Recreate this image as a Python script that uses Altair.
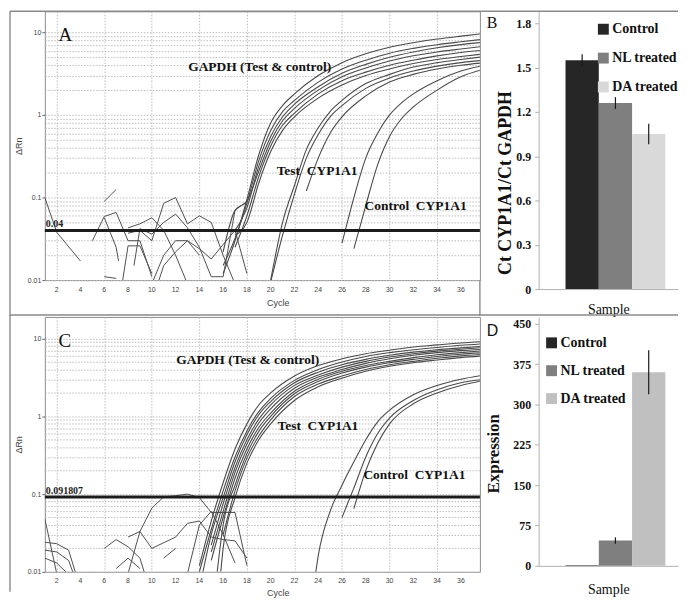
import altair as alt
import pandas as pd

SERIF = "Liberation Serif"
SANS = "Liberation Sans"
NB = "\u00a0"

# ---------------- shared axis values ----------------
CYCLE_TICKS = [2, 4, 6, 8, 10, 12, 14, 16, 18, 20, 22, 24, 26, 28, 30, 32, 34, 36]
DRN_GRID = [0.01, 0.02, 0.03, 0.04, 0.05, 0.06, 0.07, 0.08, 0.09,
            0.1, 0.2, 0.3, 0.4, 0.5, 0.6, 0.7, 0.8, 0.9,
            1, 2, 3, 4, 5, 6, 7, 8, 9, 10]
CYCLE_RANGE = [1, 37.6]

# ---------------- Panel A: amplification plot ----------------
A_THRESHOLD = 0.04
A_THRESHOLD_LABEL = "0.04"
A_GAPDH_1 = [(16, 0.012), (17, 0.03), (18, 0.095), (19, 0.33), (20, 0.8), (21, 1.3), (22, 1.8), (24, 3.0), (26, 4.3), (28, 5.5), (30, 6.6), (32, 7.5), (34, 8.3), (36, 9.0), (38, 9.7)]
A_GAPDH_2 = [(16, 0.015), (17, 0.032), (18, 0.085), (19, 0.28), (20, 0.65), (21, 1.1), (22, 1.5), (24, 2.5), (26, 3.6), (28, 4.6), (30, 5.6), (32, 6.4), (34, 7.1), (36, 7.7), (38, 8.3)]
A_GAPDH_3 = [(17, 0.04), (18, 0.075), (19, 0.24), (20, 0.55), (21, 0.95), (22, 1.35), (24, 2.2), (26, 3.2), (28, 4.1), (30, 5.0), (32, 5.8), (34, 6.5), (36, 7.1), (38, 7.6)]
A_GAPDH_4 = [(16, 0.022), (17, 0.07), (18, 0.09), (19, 0.21), (20, 0.48), (21, 0.85), (22, 1.2), (24, 2.0), (26, 2.9), (28, 3.7), (30, 4.5), (32, 5.2), (34, 5.8), (36, 6.3), (38, 6.8)]
A_GAPDH_5 = [(17, 0.025), (18, 0.06), (19, 0.18), (20, 0.42), (21, 0.75), (22, 1.05), (24, 1.8), (26, 2.6), (28, 3.3), (30, 4.0), (32, 4.6), (34, 5.2), (36, 5.7), (38, 6.1)]
A_GAPDH_6 = [(17, 0.035), (18, 0.05), (19, 0.15), (20, 0.36), (21, 0.65), (22, 0.95), (24, 1.6), (26, 2.3), (28, 3.0), (30, 3.6), (32, 4.2), (34, 4.7), (36, 5.1), (38, 5.5)]
A_TEST_1 = [(20, 0.01), (21, 0.05), (22, 0.14), (23, 0.38), (24, 0.7), (25, 1.1), (26, 1.5), (28, 2.4), (30, 3.1), (32, 3.8), (34, 4.3), (36, 4.7), (38, 5.1)]
A_TEST_2 = [(20, 0.0095), (21, 0.035), (22, 0.11), (23, 0.3), (24, 0.58), (25, 0.95), (26, 1.3), (28, 2.1), (30, 2.8), (32, 3.4), (34, 3.9), (36, 4.3), (38, 4.6)]
A_TEST_3 = [(23, 0.12), (24, 0.3), (25, 0.6), (26, 0.95), (28, 1.7), (30, 2.5), (32, 3.1), (34, 3.6), (36, 4.0), (38, 4.3)]
A_CTRL_1 = [(26, 0.028), (27, 0.1), (28, 0.3), (29, 0.6), (30, 1.0), (31, 1.4), (32, 1.8), (34, 2.6), (36, 3.4), (38, 4.0)]
A_CTRL_2 = [(27, 0.024), (28, 0.08), (29, 0.25), (30, 0.55), (31, 0.9), (32, 1.25), (34, 2.0), (36, 2.9), (38, 3.6)]

A_NOISE_1 = [(1, 0.1), (2, 0.038), (4, 0.017)]
A_NOISE_2 = [(6, 0.09), (7, 0.125)]
A_NOISE_3 = [(5, 0.03), (6, 0.059), (7, 0.066), (8, 0.03), (9, 0.03), (10, 0.011)]
A_NOISE_4 = [(6, 0.057), (7, 0.025), (7.2, 0.017)]
A_NOISE_5 = [(8, 0.043), (9, 0.048), (10, 0.057), (11, 0.04), (12, 0.02), (13, 0.009)]
A_NOISE_6 = [(8, 0.037), (9, 0.04), (10, 0.03), (11, 0.085), (12, 0.1), (13, 0.048), (14, 0.06), (15, 0.05), (16, 0.02), (17, 0.009)]
A_NOISE_7 = [(8.5, 0.015), (9, 0.042), (10, 0.036), (11, 0.05), (12, 0.063), (13, 0.043), (14, 0.025), (15, 0.011), (16, 0.011), (17, 0.07), (18, 0.09)]
A_NOISE_8 = [(10.5, 0.009), (11, 0.015), (12, 0.022), (13, 0.03), (14, 0.02)]
A_NOISE_9 = [(10, 0.009), (11, 0.02), (12, 0.03), (13, 0.03), (14, 0.024), (15, 0.018), (16, 0.027), (17, 0.04), (18, 0.012)]
A_NOISE_10 = [(6, 0.011), (7, 0.0105)]
A_NOISE_11 = [(7.5, 0.009), (8, 0.026), (9, 0.026), (10, 0.012)]

A_LETTER = ("A", 2.15, 9.4)
A_LABELS = [("GAPDH (Test & control)", 13.06, 3.8),
            ("Test" + NB + " CYP1A1", 20.5, 0.21),
            ("Control" + NB + " CYP1A1", 27.9, 0.08)]
A_YTOP = 18

# ---------------- Panel C: amplification plot ----------------
C_THRESHOLD = 0.091807
C_THRESHOLD_LABEL = "0.091807"
C_GAPDH_1 = [(14, 0.012), (15, 0.045), (16, 0.14), (17, 0.38), (18, 0.8), (19, 1.4), (20, 2.0), (22, 3.3), (24, 4.5), (26, 5.5), (28, 6.4), (30, 7.1), (32, 7.8), (34, 8.3), (36, 8.8), (38, 9.2)]
C_GAPDH_2 = [(14, 0.01), (15, 0.035), (16, 0.11), (17, 0.3), (18, 0.65), (19, 1.15), (20, 1.7), (22, 2.9), (24, 4.0), (26, 5.0), (28, 5.9), (30, 6.6), (32, 7.2), (34, 7.7), (36, 8.2), (38, 8.6)]
C_GAPDH_3 = [(14.3, 0.01), (15, 0.03), (16, 0.09), (17, 0.26), (18, 0.58), (19, 1.05), (20, 1.55), (22, 2.7), (24, 3.7), (26, 4.6), (28, 5.4), (30, 6.1), (32, 6.7), (34, 7.2), (36, 7.6), (38, 8.0)]
C_GAPDH_4 = [(15, 0.022), (16, 0.075), (17, 0.22), (18, 0.5), (19, 0.92), (20, 1.4), (22, 2.5), (24, 3.4), (26, 4.3), (28, 5.1), (30, 5.8), (32, 6.4), (34, 6.9), (36, 7.3), (38, 7.7)]
C_GAPDH_5 = [(15, 0.018), (16, 0.06), (17, 0.19), (18, 0.44), (19, 0.82), (20, 1.25), (22, 2.3), (24, 3.2), (26, 4.0), (28, 4.8), (30, 5.5), (32, 6.1), (34, 6.6), (36, 7.0), (38, 7.3)]
C_TEST_1 = [(15, 0.014), (16, 0.05), (17, 0.16), (18, 0.38), (19, 0.72), (20, 1.1), (22, 2.1), (24, 3.0), (26, 3.8), (28, 4.5), (30, 5.1), (32, 5.7), (34, 6.2), (36, 6.6), (38, 7.0)]
C_TEST_2 = [(15.5, 0.01), (16, 0.04), (17, 0.13), (18, 0.33), (19, 0.64), (20, 1.0), (22, 1.95), (24, 2.8), (26, 3.6), (28, 4.3), (30, 4.9), (32, 5.4), (34, 5.9), (36, 6.3), (38, 6.6)]
C_TEST_3 = [(16, 0.03), (17, 0.11), (18, 0.29), (19, 0.56), (20, 0.9), (22, 1.8), (24, 2.6), (26, 3.3), (28, 4.0), (30, 4.6), (32, 5.1), (34, 5.6), (36, 6.0), (38, 6.3)]
C_TEST_4 = [(15.8, 0.01), (16, 0.02), (17, 0.09), (18, 0.25), (19, 0.5), (20, 0.8), (22, 1.6), (24, 2.4), (26, 3.1), (28, 3.8), (30, 4.4), (32, 4.9), (34, 5.3), (36, 5.7), (38, 6.0)]
C_CTRL_1 = [(23.8, 0.01), (24, 0.016), (25, 0.06), (26, 0.13), (27, 0.26), (28, 0.5), (29, 0.85), (30, 1.2), (32, 1.9), (34, 2.5), (36, 3.0), (38, 3.4)]
C_CTRL_2 = [(26, 0.05), (27, 0.12), (28, 0.3), (29, 0.6), (30, 0.95), (32, 1.6), (34, 2.2), (36, 2.7), (38, 3.0)]
C_CTRL_3 = [(27, 0.065), (28, 0.2), (29, 0.45), (30, 0.8), (32, 1.45), (34, 2.0), (36, 2.5), (38, 2.9)]

C_NOISE_1 = [(1, 0.048), (2, 0.0095)]
C_NOISE_2 = [(1, 0.024), (2, 0.023), (3, 0.019), (3.6, 0.0095)]
C_NOISE_3 = [(1, 0.019), (2, 0.018), (3, 0.014), (3.4, 0.0095)]
C_NOISE_4 = [(1, 0.015), (2, 0.013), (2.9, 0.0095)]
C_NOISE_5 = [(6, 0.02), (7, 0.026), (8, 0.021), (9, 0.015), (9.4, 0.0095)]
C_NOISE_6 = [(8, 0.028), (9, 0.033), (10, 0.02), (12, 0.028), (13, 0.042), (14, 0.045), (15, 0.028), (16, 0.026), (17, 0.025), (18, 0.015)]
C_NOISE_7 = [(8, 0.0095), (9, 0.033), (10, 0.066), (11, 0.092), (12, 0.095), (13, 0.1), (14, 0.09), (15, 0.058), (16, 0.058), (17, 0.058), (18, 0.012)]
C_NOISE_8 = [(7, 0.011), (8, 0.015), (9, 0.011)]
C_NOISE_9 = [(11, 0.015), (12, 0.02)]
C_NOISE_10 = [(13, 0.0095), (14, 0.04), (15, 0.06), (16, 0.03), (17, 0.013)]

C_LETTER = ("C", 2.15, 9.4)
C_LABELS = [("GAPDH (Test & control)", 12.06, 5.3),
            ("Test" + NB + " CYP1A1", 20.57, 0.746),
            ("Control" + NB + " CYP1A1", 27.8, 0.177)]
C_YTOP = 19

# ---------------- Panels B and D: bar charts ----------------
GROUPS = ["Control", "NL treated", "DA treated"]
SAMPLE = "Sample"
B_VALUES = [1.55, 1.26, 1.05]
B_ERRORS = [0.04, 0.04, 0.07]
B_COLORS = ["#262626", "#7f7f7f", "#d9d9d9"]
B_TICKS = [0, 0.3, 0.6, 0.9, 1.2, 1.5, 1.8]
B_TITLE = "Ct CYP1A1/Ct GAPDH"
D_VALUES = [1, 47, 360]
D_ERRORS = [0, 6, 41]
D_COLORS = ["#262626", "#7f7f7f", "#c0c0c0"]
D_TICKS = [0, 75, 150, 225, 300, 375, 450]
D_TITLE = "Expression"

PANEL_W = 437
BAR_W = 140
COL_GAP = 59
FRAME = "#8a8a8a"


def curves_frame(curves):
    rows = []
    for name, pts in curves.items():
        for c, v in pts:
            rows.append({"id": name, "cycle": c, "drn": v})
    return pd.DataFrame(rows)


def frame_rule(x, x2, y, y2):
    return alt.Chart(pd.DataFrame({"k": [0]})).mark_rule(color=FRAME, strokeWidth=1.4).encode(
        x=alt.value(x), x2=alt.value(x2), y=alt.value(y), y2=alt.value(y2))


def amp_panel(curves, noise, threshold, thr_label, letter, labels, ytop, height,
              xlab_off, xtitle_pad, frames):
    x_enc = alt.X(
        "cycle:Q",
        scale=alt.Scale(domain=CYCLE_RANGE, nice=False, zero=False),
        axis=alt.Axis(values=CYCLE_TICKS, title="Cycle", grid=True, gridDash=[1.5, 1.5],
                      gridColor="#bdbdbd", gridWidth=1, domain=False, ticks=False,
                      labels=False, titleFont=SANS, titleFontSize=9,
                      titleFontWeight="normal", titleColor="#444", titlePadding=xtitle_pad,
                      titleX=234),
    )
    y_enc = alt.Y(
        "drn:Q",
        scale=alt.Scale(type="log", domain=[0.01, ytop], nice=False),
        axis=alt.Axis(values=DRN_GRID, format="~g", labelOverlap=False,
                      labelExpr="indexof([0.01, 0.1, 1, 10], datum.value) >= 0 ? datum.label : ''",
                      title="\u0394Rn", grid=True, gridDash=[1.5, 1.5], gridColor="#bdbdbd",
                      gridWidth=1, domain=False, tickSize=3, tickColor="#666",
                      tickOpacity={"condition": {"test": "indexof([0.01, 0.1, 1, 10], datum.value) >= 0", "value": 1}, "value": 0},
                      labelFont=SANS, labelFontSize=7, labelColor="#444", labelPadding=1,
                      titleFont=SANS, titleFontSize=9, titleFontWeight="normal",
                      titleColor="#444", titlePadding=4),
    )
    noise_l = alt.Chart(curves_frame(noise)).mark_line(
        color="#505050", strokeWidth=1, clip=True
    ).encode(x=x_enc, y=y_enc, detail="id:N")
    curve_l = alt.Chart(curves_frame(curves)).mark_line(
        color="#4a4a4a", strokeWidth=1.1, interpolate="monotone", clip=True
    ).encode(x="cycle:Q", y="drn:Q", detail="id:N")
    xlabels = alt.Chart(pd.DataFrame({"cycle": CYCLE_TICKS, "label": [str(c) for c in CYCLE_TICKS]})).mark_text(
        font=SANS, fontSize=7, color="#444", baseline="middle", align="center"
    ).encode(x="cycle:Q", y=alt.value(height + xlab_off), text="label:N")
    thr = alt.Chart(pd.DataFrame({"drn": [threshold]})).mark_rule(
        color="#1c1c1c", strokeWidth=3
    ).encode(y="drn:Q")
    thr_txt = alt.Chart(pd.DataFrame({"cycle": [1.08], "drn": [threshold], "label": [thr_label]})).mark_text(
        align="left", baseline="bottom", dy=-1, font=SERIF, fontSize=10, fontWeight="bold", color="#222"
    ).encode(x="cycle:Q", y="drn:Q", text="label:N")
    ann = alt.Chart(pd.DataFrame(labels, columns=["label", "cycle", "drn"])).mark_text(
        align="left", baseline="middle", font=SERIF, fontSize=13.5, fontWeight="bold", color="#111"
    ).encode(x="cycle:Q", y="drn:Q", text="label:N")
    let = alt.Chart(pd.DataFrame([letter], columns=["label", "cycle", "drn"])).mark_text(
        align="left", baseline="middle", font=SERIF, fontSize=19, color="#111"
    ).encode(x="cycle:Q", y="drn:Q", text="label:N")
    layers = [noise_l, curve_l, xlabels, thr, thr_txt, ann, let] + [frame_rule(*f) for f in frames]
    return alt.layer(*layers).properties(
        width=PANEL_W, height=height, view=alt.ViewBackground(stroke="#8c8c8c", strokeWidth=1)
    )


def bar_panel(values, errors, colors, ticks, fmt, ytop, ytitle, title_size, title_x, title_y,
              height, legend_x, legend_y, legend_pad, letter, letter_font, letter_y, sample_pad):
    df = pd.DataFrame({
        "sample": [SAMPLE] * len(GROUPS),
        "group": GROUPS,
        "val": values,
        "lo": [v - e for v, e in zip(values, errors)],
        "hi": [v + e for v, e in zip(values, errors)],
    })
    x_enc = alt.X("sample:N", title="Sample",
                  scale=alt.Scale(paddingInner=0, paddingOuter=0.198, align=0.68),
                  axis=alt.Axis(labels=False, ticks=False, domainColor="#b0b0b0",
                                titleFont=SERIF, titleFontSize=14, titleFontWeight="normal",
                                titleColor="#111", titlePadding=sample_pad))
    xo = alt.XOffset("group:N", sort=GROUPS, scale=alt.Scale(paddingInner=0, paddingOuter=0))
    y_enc = alt.Y("val:Q", title=ytitle,
                  scale=alt.Scale(domain=[0, ytop], nice=False, zero=True),
                  axis=alt.Axis(values=ticks, format=fmt, grid=False, domainColor="#b0b0b0",
                                tickColor="#b0b0b0", tickSize=4, labelPadding=4,
                                labelFont=SERIF, labelFontSize=12, labelFontWeight="bold",
                                labelColor="#111", titleFont=SERIF, titleFontSize=title_size,
                                titleFontWeight="bold", titleColor="#111", titleAngle=-90,
                                titleAlign="center", titleBaseline="middle",
                                titleX=title_x, titleY=title_y))
    bars = alt.Chart(df).mark_bar().encode(
        x=x_enc, xOffset=xo, y=y_enc,
        color=alt.Color("group:N", sort=GROUPS,
                        scale=alt.Scale(domain=GROUPS, range=colors),
                        legend=alt.Legend(orient="none", legendX=legend_x, legendY=legend_y,
                                          title=None, symbolType="square", symbolSize=120,
                                          symbolStrokeWidth=0, labelFont=SERIF,
                                          labelFontSize=14, labelFontWeight="bold",
                                          labelColor="#111", rowPadding=legend_pad,
                                          labelOffset=2, padding=0)),
    )
    err = alt.Chart(df).mark_rule(color="#1a1a1a", strokeWidth=1.2).encode(
        x=alt.X("sample:N", title="Sample"), xOffset=alt.XOffset("group:N", sort=GROUPS),
        y=alt.Y("lo:Q", title=ytitle), y2="hi:Q")
    let = alt.Chart(pd.DataFrame({"label": [letter]})).mark_text(
        align="left", baseline="middle", font=letter_font, fontSize=16, color="#111"
    ).encode(x=alt.value(-52), y=alt.value(letter_y), text="label:N")
    return alt.layer(bars, err, let).properties(width=BAR_W, height=height)


A_CURVES = {"A_GAPDH_1": A_GAPDH_1, "A_GAPDH_2": A_GAPDH_2, "A_GAPDH_3": A_GAPDH_3,
            "A_GAPDH_4": A_GAPDH_4, "A_GAPDH_5": A_GAPDH_5, "A_GAPDH_6": A_GAPDH_6,
            "A_TEST_1": A_TEST_1, "A_TEST_2": A_TEST_2, "A_TEST_3": A_TEST_3,
            "A_CTRL_1": A_CTRL_1, "A_CTRL_2": A_CTRL_2}
A_NOISE = {"n1": A_NOISE_1, "n2": A_NOISE_2, "n3": A_NOISE_3, "n4": A_NOISE_4,
           "n5": A_NOISE_5, "n6": A_NOISE_6, "n7": A_NOISE_7, "n8": A_NOISE_8,
           "n9": A_NOISE_9, "n10": A_NOISE_10, "n11": A_NOISE_11}
C_CURVES = {"C_GAPDH_1": C_GAPDH_1, "C_GAPDH_2": C_GAPDH_2, "C_GAPDH_3": C_GAPDH_3,
            "C_GAPDH_4": C_GAPDH_4, "C_GAPDH_5": C_GAPDH_5, "C_TEST_1": C_TEST_1,
            "C_TEST_2": C_TEST_2, "C_TEST_3": C_TEST_3, "C_TEST_4": C_TEST_4,
            "C_CTRL_1": C_CTRL_1, "C_CTRL_2": C_CTRL_2, "C_CTRL_3": C_CTRL_3}
C_NOISE = {"n1": C_NOISE_1, "n2": C_NOISE_2, "n3": C_NOISE_3, "n4": C_NOISE_4,
           "n5": C_NOISE_5, "n6": C_NOISE_6, "n7": C_NOISE_7, "n8": C_NOISE_8,
           "n9": C_NOISE_9, "n10": C_NOISE_10}

FULL_RIGHT = PANEL_W + COL_GAP + BAR_W
# decorative panel frames (outer box and dividers), in pixels relative to each panel
A_FRAMES = [(-35, FULL_RIGHT, 0, 0),          # top border
            (-35, -35, 0, 306),               # left border
            (PANEL_W, PANEL_W, 270, 306)]     # vertical divider below panel A
C_FRAMES = [(-35, FULL_RIGHT, -2, -2),        # horizontal divider
            (-35, -35, -2, 276)]              # left border

panel_a = amp_panel(A_CURVES, A_NOISE, A_THRESHOLD, A_THRESHOLD_LABEL, A_LETTER, A_LABELS,
                    A_YTOP, 270, 10, 19, A_FRAMES)
panel_c = amp_panel(C_CURVES, C_NOISE, C_THRESHOLD, C_THRESHOLD_LABEL, C_LETTER, C_LABELS,
                    C_YTOP, 256, 9, 17, C_FRAMES)
panel_b = bar_panel(B_VALUES, B_ERRORS, B_COLORS, B_TICKS, ".1~f", 1.881, B_TITLE, 18, -33, 172, 279,
                    58, 11, 15, "B", SERIF, 12, 14)
panel_d = bar_panel(D_VALUES, D_ERRORS, D_COLORS, D_TICKS, "d", 462.8, D_TITLE, 17, -45, 137, 250,
                    6, 19, 14, "D", SANS, 14, 17)

chart = alt.concat(
    panel_a, panel_b, panel_c, panel_d,
    columns=2, spacing={"row": 28, "column": COL_GAP}, bounds="flush", align="each",
).resolve_scale(
    x="independent", y="independent", color="independent"
).properties(
    padding={"left": 0, "top": 0, "right": 0, "bottom": 0}, background="white"
).configure_view(stroke="transparent")

chart.save("out.html", embed_options={"renderer": "svg", "actions": False})
